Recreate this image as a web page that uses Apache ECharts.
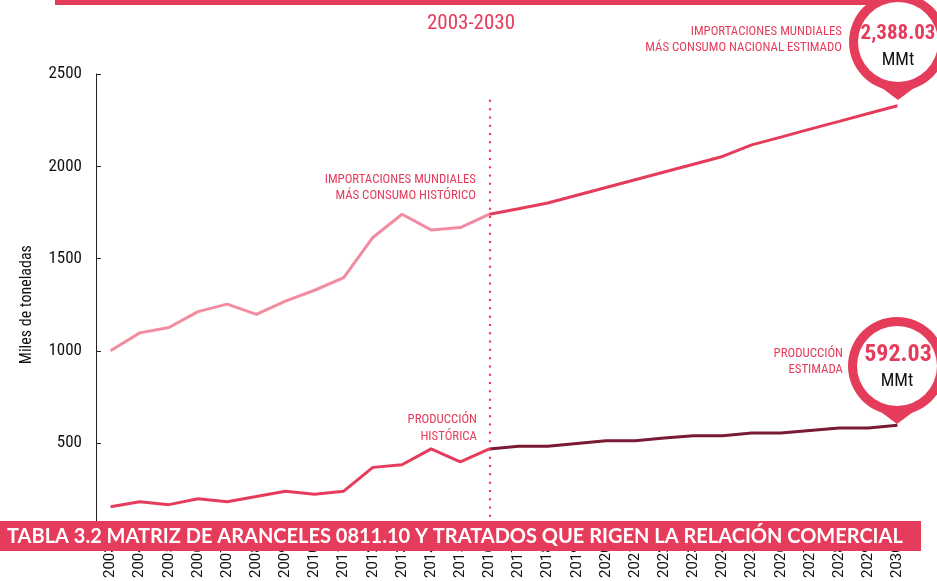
<!DOCTYPE html>
<html>
<head>
<meta charset="utf-8">
<script src="https://cdn.jsdelivr.net/npm/echarts@6/dist/echarts.min.js"></script>
<style>html,body{margin:0;padding:0;background:#fff}#c{width:937px;height:581px}</style>
</head>
<body>
<div id="c"></div>
<script>
var years = ['2003','2004','2005','2006','2007','2008','2009','2010','2011','2012','2013','2014','2015','2016','2017','2018','2019','2020','2021','2022','2023','2024','2025','2026','2027','2028','2029','2030'];
var importsHist = [1000,1097,1126,1212,1253,1197,1269,1328,1396,1614,1740,1655,1668,1740];
var importsProj = [1740,1770,1801,1843,1885,1927,1969,2011,2053,2116,2158,2201,2243,2286,2328];
var prodHist = [155,182,166,198,182,210,239,223,239,368,382,468,398,468];
var prodProj = [468,482,482,498,512,512,527,539,539,554,554,568,582,582,596];
var yTicks = [0,500,1000,1500,2000,2500];

var RED = '#e63c5c', PINK = '#f28ca0', MAROON = '#7a1b35';
var COND = '"Roboto Condensed","DejaVu Sans Condensed",sans-serif';

function pad(arr, start, total){
  var out = [];
  for (var i=0;i<total;i++){ var j=i-start; out.push(j>=0 && j<arr.length ? arr[j] : null); }
  return out;
}
var n = years.length;
var projStart = years.indexOf('2016');

var chart = echarts.init(document.getElementById('c'), null, {renderer:'canvas'});

function txt(t, x, y, size, color, align, weight, family){
  return {type:'text', z:50, style:{text:t, x:x, y:y, fill:color, align:align, verticalAlign:'middle', textAlign:align, textVerticalAlign:'middle', fontSize:size, fontWeight:weight||'normal', fontFamily:family||COND}};
}
function pin(cx, cy, tipY){
  return [
    {type:'polygon', z:40, shape:{points:[[cx-24,cy+40],[cx+24,cy+40],[cx,tipY]]}, style:{fill:RED}},
    {type:'circle', z:41, shape:{cx:cx, cy:cy, r:49}, style:{fill:RED}},
    {type:'circle', z:42, shape:{cx:cx, cy:cy, r:40}, style:{fill:'#fff'}}
  ];
}

var graphics = [
  {type:'rect', z:39, shape:{x:55, y:0, width:843, height:5}, style:{fill:RED}},
  txt('2003-2030', 471, 24, 21, RED, 'center'),
  txt('IMPORTACIONES MUNDIALES', 842, 32, 12.8, RED, 'right'),
  txt('MÁS CONSUMO NACIONAL ESTIMADO', 842, 48, 12.8, RED, 'right'),
  txt('IMPORTACIONES MUNDIALES', 476, 180, 12.8, RED, 'right'),
  txt('MÁS CONSUMO HISTÓRICO', 476, 196, 12.8, RED, 'right'),
  txt('PRODUCCIÓN', 477, 420, 12.8, RED, 'right'),
  txt('HISTÓRICA', 477, 437, 12.8, RED, 'right'),
  txt('PRODUCCIÓN', 843, 354, 12.8, RED, 'right'),
  txt('ESTIMADA', 843, 370, 12.8, RED, 'right')
].concat(pin(898, 42, 100)).concat(pin(897, 366, 424)).concat([
  txt('2,388.03', 898, 34, 21, RED, 'center', 'bold'),
  txt('MMt', 898, 60, 18, '#111', 'center'),
  txt('592.03', 898, 355, 24, RED, 'center', 'bold'),
  txt('MMt', 897, 381, 18, '#111', 'center'),
  {type:'rect', z:60, shape:{x:0, y:521, width:921, height:30}, style:{fill:RED}},
  {type:'text', z:61, style:{text:'TABLA 3.2 MATRIZ DE ARANCELES 0811.10 Y TRATADOS QUE RIGEN LA RELACIÓN COMERCIAL', x:7, y:537, fill:'#fff', align:'left', verticalAlign:'middle', textAlign:'left', textVerticalAlign:'middle', fontSize:20, fontWeight:'bold', fontFamily:'Lato, "Open Sans", sans-serif'}}
]);

var option = {
  animation:false,
  grid:{left:96, right:25, top:74, bottom:41, containLabel:false},
  xAxis:{
    type:'category', data:years, boundaryGap:true,
    axisLine:{show:true, lineStyle:{color:'#222'}},
    axisTick:{show:false},
    axisLabel:{rotate:90, interval:0, margin:9, fontSize:15, color:'#111', fontFamily:'Roboto, sans-serif'}
  },
  yAxis:{
    type:'value', min:yTicks[0], max:yTicks[yTicks.length-1], interval:500,
    name:'Miles de toneladas', nameLocation:'middle', nameGap:61, nameRotate:90,
    nameTextStyle:{fontSize:16, color:'#111', fontFamily:COND},
    axisLine:{show:true, lineStyle:{color:'#222', width:1}},
    axisTick:{show:true, inside:true, length:5, lineStyle:{color:'#222'}},
    splitLine:{show:false},
    axisLabel:{margin:14, fontSize:17, color:'#111', fontFamily:COND, formatter:function(v){return v===0?'':String(v);}}
  },
  series:[
    {type:'line', data:pad(importsHist,0,n), symbol:'none', lineStyle:{color:PINK, width:3}, z:3,
     markLine:{silent:true, symbol:'none', label:{show:false},
       lineStyle:{color:RED, width:2.2, type:[2,6.3], cap:'butt'},
       data:[[{coord:['2016',2360]},{coord:['2016',0]}]]}},
    {type:'line', data:pad(importsProj,projStart,n), symbol:'none', lineStyle:{color:RED, width:3}, z:4},
    {type:'line', data:pad(prodHist,0,n), symbol:'none', lineStyle:{color:RED, width:3}, z:3},
    {type:'line', data:pad(prodProj,projStart,n), symbol:'none', lineStyle:{color:MAROON, width:3}, z:4}
  ],
  graphic:{elements:graphics}
};
chart.setOption(option);
</script>
</body>
</html>
